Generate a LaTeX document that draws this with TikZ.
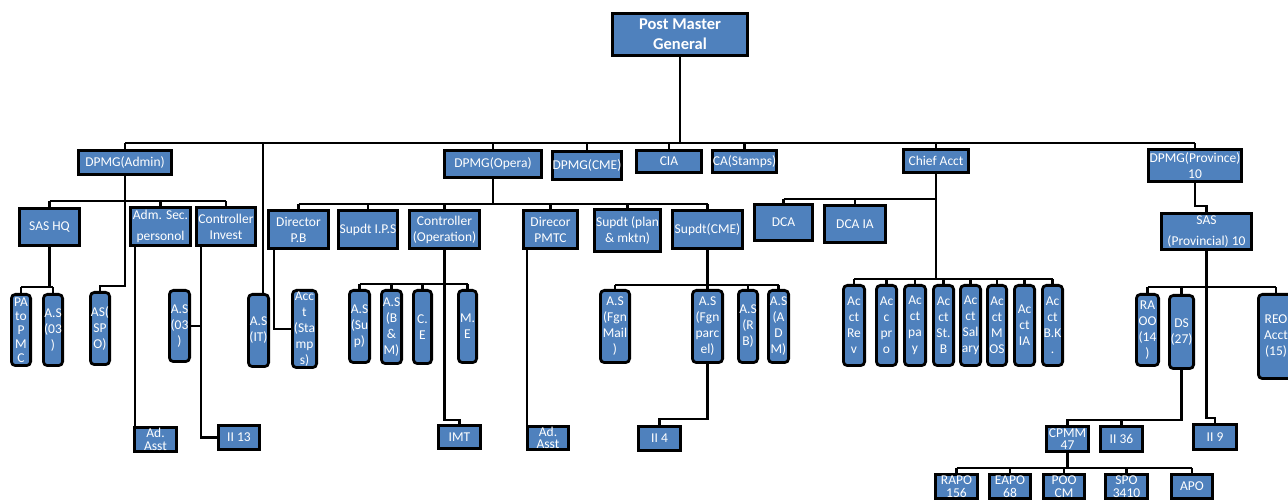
\documentclass[tikz,border=0pt]{standalone}
\usepackage{fontspec}
\setmainfont{Carlito}
\definecolor{boxblue}{HTML}{4F81BD}
\tikzset{
  box/.style={draw=black, line width=2.8pt, fill=boxblue, text=white, inner sep=0pt, outer sep=0pt,
    align=center, font=\fontsize{13.5}{16}\selectfont},
  vbox/.style={box, rounded corners=4pt},
  conn/.style={draw=black, line width=2.8pt},
  tight/.style={font=\fontsize{13.5}{12.5}\selectfont},
  loose/.style={font=\fontsize{13.5}{21}\selectfont},
  head/.style={font=\fontsize{16.5}{20}\selectfont\bfseries}
}
\newcommand\bx[7][]{\node[box,#1,minimum width={#5-#3-2.8},minimum height={#6-#4-2.8}] (#2) at ({(#3+#5)/2},{(#4+#6)/2}) {#7};}
\begin{document}
\begin{tikzpicture}[x=1pt,y=-1pt]
\useasboundingbox (0,0) rectangle (1288,502);
% ---- nodes ----
\bx[head]{pmg}{611}{12}{749}{57}{Post Master\\General}
\bx{dadmin}{77}{149}{173}{176}{DPMG(Admin)}
\bx{dopera}{443}{149}{543}{179}{DPMG(Opera)}
\bx{dcme}{551}{150}{623}{181}{DPMG(CME)}
\bx{cia}{635}{149}{703}{174}{CIA}
\bx{cast}{711}{149}{778}{174}{CA(Stamps)}
\bx{chief}{902}{148}{970}{174}{Chief Acct}
\bx{dprov}{1147}{148}{1243}{183}{DPMG(Province)\\10}
% admin subtree
\bx{sashq}{18}{207}{81}{247}{SAS HQ}
\bx[loose]{admsec}{129}{206}{192}{247}{Adm. Sec.\\personol}
\bx{ctrlinv}{195}{206}{257}{247}{Controller\\Invest}
\bx[vbox,font=\fontsize{13.5}{14}\selectfont]{patopmc}{10}{293}{32}{367}{PA\\to\\P\\M\\C}
\bx[vbox]{as03a}{42}{293}{64}{367}{A.S\\(03\\)}
\bx[vbox]{asspo}{89}{291}{111}{366}{AS(\\SP\\O)}
\bx[vbox]{as03b}{168}{289}{191}{363}{A.S\\(03\\)}
\bx[vbox]{asit}{247}{293}{270}{368}{A.S\\(IT)}
\bx[tight]{adasst1}{133}{426}{178}{453}{Ad.\\Asst}
\bx{ii13}{217}{424}{261}{451}{II 13}
% opera subtree
\bx{dirpb}{267}{209}{330}{250}{Director\\P.B}
\bx{supips}{337}{209}{399}{250}{Supdt I.P.S}
\bx{ctrlop}{408}{209}{481}{250}{Controller\\(Operation)}
\bx{dirpmtc}{522}{209}{579}{250}{Direcor\\PMTC}
\bx{supplan}{593}{208}{662}{253}{Supdt (plan\\\& mktn)}
\bx{supcme}{671}{209}{744}{250}{Supdt(CME)}
\bx[vbox]{acctst}{291}{289}{318}{369}{Acc\\t\\(Sta\\mp\\s)}
\bx[vbox]{assup}{348}{289}{371}{364}{A.S\\(Su\\p)}
\bx[vbox]{asbm}{380}{289}{403}{365}{A.S\\(B\\\&\\M)}
\bx[vbox]{ce}{412}{289}{433}{365}{C.\\E}
\bx[vbox]{me}{457}{289}{478}{364}{M.\\E}
\bx{imt}{437}{424}{482}{450}{IMT}
\bx[tight]{adasst2}{526}{425}{570}{451}{Ad.\\Asst}
\bx[vbox]{asfmail}{599}{289}{631}{364}{A.S\\(Fgn\\Mail\\)}
\bx[vbox]{asfparcel}{691}{289}{724}{364}{A.S\\(Fgn\\parc\\el)}
\bx[vbox]{asrb}{737}{289}{759}{364}{A.S\\(R\\B)}
\bx[vbox]{asadm}{767}{289}{790}{364}{A.S\\(A\\D\\M)}
\bx{ii4}{637}{425}{682}{452}{II 4}
% chief acct subtree
\bx{dca}{753}{203}{814}{242}{DCA}
\bx{dcaia}{823}{204}{887}{244}{DCA IA}
\bx[vbox]{arev}{842}{284}{866}{367}{Ac\\ct\\Re\\v}
\bx[vbox]{apro}{875}{284}{898}{367}{Ac\\c\\pr\\o}
\bx[vbox]{apay}{903}{284}{927}{367}{Ac\\ct\\pa\\y}
\bx[vbox]{astb}{932}{284}{955}{367}{Ac\\ct\\St.\\B}
\bx[vbox]{asal}{959}{284}{982}{367}{Ac\\ct\\Sal\\ary}
\bx[vbox]{amos}{986}{284}{1008}{367}{Ac\\ct\\M\\OS}
\bx[vbox]{aia}{1013}{284}{1036}{367}{Ac\\ct\\IA}
\bx[vbox]{abk}{1041}{284}{1064}{367}{Ac\\ct\\B.K\\.}
% province subtree
\bx[loose]{sas}{1160}{212}{1253}{251}{SAS\\(Provincial) 10}
\bx[vbox]{raoo}{1135}{293}{1160}{367}{RA\\OO\\(14\\)}
\bx[vbox]{ds}{1168}{294}{1195}{370}{DS\\(27)}
\bx[vbox]{reo}{1257}{293}{1295}{380}{REO\\Acct\\(15)}
\bx[tight]{cpmm}{1045}{425}{1090}{453}{CPMM\\47}
\bx{ii36}{1099}{425}{1144}{453}{II 36}
\bx{ii9}{1192}{423}{1238}{451}{II 9}
\bx[tight]{rapo}{934}{473}{979}{500}{RAPO\\156}
\bx[tight]{eapo}{988}{473}{1032}{500}{EAPO\\68}
\bx[tight]{poocm}{1042}{473}{1086}{500}{POO\\CM}
\bx[tight]{spo}{1104}{473}{1149}{500}{SPO\\3410}
\bx{apo}{1170}{473}{1214}{500}{APO}
% ---- bus coordinates ----
\coordinate (bMain) at (0,143);
\coordinate (bA) at (0,201);
\coordinate (bAs) at (0,286);
\coordinate (bS) at (0,287);
\coordinate (xA) at (135,0);
\coordinate (xC) at (201,0);
\coordinate (bO) at (0,204);
\coordinate (xP) at (274,0);
\coordinate (bI) at (0,420);
\coordinate (bCo) at (0,284);
\coordinate (xM) at (527,0);
\coordinate (bC) at (0,285);
\coordinate (bF) at (0,419);
\coordinate (bD) at (0,199);
\coordinate (bK) at (0,279);
\coordinate (bP) at (0,206);
\coordinate (bQ) at (0,418);
\coordinate (bR) at (0,287);
\coordinate (bT) at (0,420);
\coordinate (bU) at (0,468);
% ---- connectors ----
\draw[conn] (pmg.south) -- (pmg.south |- bMain);
\draw[conn] (dadmin.north |- bMain) -- (dprov.north |- bMain);
\foreach \n in {dadmin,dopera,dcme,cia,cast,chief,dprov}
  \draw[conn] (\n.north) -- (\n.north |- bMain);
\draw[conn] ([xshift=4.5pt]asit.north) -- ([xshift=4.5pt]asit.north |- bMain);
% admin
\draw[conn] (dadmin.south) |- (asspo.north |- bAs) -- (asspo.north);
\draw[conn] (sashq.north |- bA) -- (ctrlinv.north |- bA);
\foreach \n in {sashq,admsec,ctrlinv}
  \draw[conn] (\n.north) -- (\n.north |- bA);
\draw[conn] (sashq.south) -- (sashq.south |- bS);
\draw[conn] (patopmc.north |- bS) -- (as03a.north |- bS);
\foreach \n in {patopmc,as03a}
  \draw[conn] (\n.north) -- (\n.north |- bS);
\draw[conn] (admsec.south -| xA) -- (adasst1.north -| xA);
\draw[conn] (ctrlinv.south -| xC) |- (ii13.west);
\draw[conn] (as03b.east) -- (as03b.east -| xC);
% opera
\draw[conn] (dopera.south) -- (dopera.south |- bO);
\draw[conn] (dirpb.north |- bO) -- (supcme.north |- bO);
\foreach \n in {dirpb,supips,ctrlop,dirpmtc,supplan,supcme}
  \draw[conn] (\n.north) -- (\n.north |- bO);
\draw[conn] (dirpb.south -| xP) |- (acctst.west);
\draw[conn] (ctrlop.south) |- (imt.north |- bI) -- (imt.north);
\draw[conn] (assup.north |- bCo) -- (me.north |- bCo);
\foreach \n in {assup,asbm,ce,me}
  \draw[conn] (\n.north) -- (\n.north |- bCo);
\draw[conn] (dirpmtc.south -| xM) -- (adasst2.north -| xM);
\draw[conn] (supcme.south) -- (supcme.south |- bC);
\draw[conn] (asfmail.north |- bC) -- (asadm.north |- bC);
\foreach \n in {asfmail,asfparcel,asrb,asadm}
  \draw[conn] (\n.north) -- (\n.north |- bC);
\draw[conn] (asfparcel.south) |- (ii4.north |- bF) -- (ii4.north);
% chief acct
\draw[conn] (chief.south) -- (chief.south |- bK);
\draw[conn] (dca.north |- bD) -- (chief.south |- bD);
\foreach \n in {dca,dcaia}
  \draw[conn] (\n.north) -- (\n.north |- bD);
\draw[conn] (arev.north |- bK) -- (abk.north |- bK);
\foreach \n in {arev,apro,apay,astb,asal,amos,aia,abk}
  \draw[conn] (\n.north) -- (\n.north |- bK);
% province
\draw[conn] (dprov.south) |- (sas.north |- bP) -- (sas.north);
\draw[conn] (sas.south) |- (ii9.north |- bQ) -- (ii9.north);
\draw[conn] (raoo.north |- bR) -- (reo.north |- bR);
\foreach \n in {raoo,ds,reo}
  \draw[conn] (\n.north) -- (\n.north |- bR);
\draw[conn] (ds.south) |- (cpmm.north |- bT) -- (cpmm.north);
\draw[conn] (ii36.north) -- (ii36.north |- bT);
\draw[conn] (cpmm.south) -- (cpmm.south |- bU);
\draw[conn] (rapo.north |- bU) -- (apo.north |- bU);
\foreach \n in {rapo,eapo,poocm,spo,apo}
  \draw[conn] (\n.north) -- (\n.north |- bU);
\end{tikzpicture}
\end{document}
